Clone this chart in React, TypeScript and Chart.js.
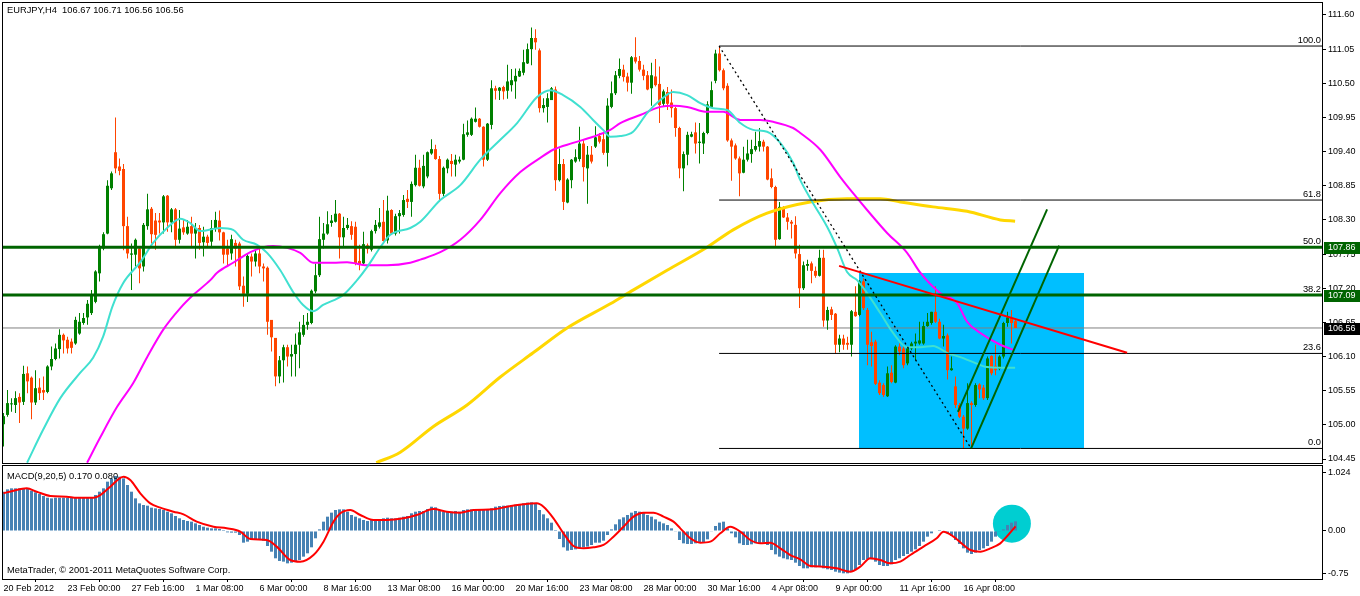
import React, { useEffect, useRef } from "react";
import { Chart, registerables } from "chart.js";

Chart.register(...registerables);

// ---------- price data (EURJPY H4) ----------
const OPEN = [
  105.01,105.16,105.33,105.32,105.45,105.37,105.83,105.76,105.36,105.60,
  105.56,105.53,105.94,106.06,106.22,106.45,106.37,106.34,106.31,106.47,
  106.64,106.73,106.80,106.98,107.44,107.84,108.08,108.81,109.39,109.16,
  109.12,108.20,107.74,107.74,107.84,107.55,108.20,108.48,108.29,108.29,
  108.26,108.69,108.26,108.47,107.98,108.18,108.08,108.20,108.08,108.17,
  107.94,108.03,107.95,108.17,108.29,108.10,107.84,107.76,107.93,107.92,
  107.24,107.11,107.71,107.63,107.76,107.55,107.53,106.69,106.40,105.78,
  106.04,106.25,106.10,106.14,106.29,106.45,106.61,106.64,107.15,107.41,
  107.98,108.08,108.25,108.27,108.40,108.02,108.17,108.20,108.19,107.64,
  107.60,107.89,107.82,108.12,108.19,108.27,107.97,108.46,108.08,108.36,
  108.38,108.64,108.59,108.86,109.14,108.84,109.00,109.37,109.44,109.28,
  108.72,109.13,109.25,109.19,109.24,109.27,109.67,109.67,109.88,109.93,
  109.80,109.27,109.83,110.42,110.38,110.44,110.38,110.47,110.53,110.61,
  110.67,110.82,111.05,111.23,111.03,110.10,110.12,110.23,110.40,108.94,
  109.20,108.58,108.94,109.24,109.28,109.53,109.13,109.35,109.48,109.65,
  109.60,109.38,110.12,110.34,110.62,110.72,110.61,110.51,110.92,110.86,
  110.72,110.63,110.42,110.61,110.49,110.17,110.36,110.19,110.10,109.78,
  109.13,109.35,109.64,109.71,109.54,109.53,109.70,110.12,110.54,110.98,
  110.71,110.46,109.58,109.50,109.29,109.06,109.27,109.36,109.43,109.48,
  109.56,109.48,108.97,108.83,107.99,108.50,108.34,108.27,108.22,107.75,
  107.20,107.56,107.60,107.48,107.40,107.69,106.68,106.86,106.79,106.29,
  106.39,106.32,106.29,106.82,106.77,107.31,106.85,106.33,106.34,105.68,
  105.64,105.46,105.84,105.68,106.26,106.23,105.99,106.23,106.31,106.31,
  106.31,106.59,106.64,106.82,106.66,106.39,106.44,105.88,105.62,105.32,
  105.13,104.94,105.35,105.32,105.65,105.60,105.43,106.11,105.95,105.90,
  106.10,106.64,106.72,106.67,
];
const HIGH = [
  105.19,105.56,105.43,105.54,105.51,105.95,105.94,105.78,105.88,105.75,
  105.78,105.96,106.26,106.31,106.54,106.47,106.42,106.39,106.74,106.80,
  106.80,107.01,107.17,107.49,107.90,108.10,108.94,109.08,109.95,109.29,
  109.20,108.35,107.92,108.00,107.87,108.25,108.72,108.51,108.41,108.41,
  108.70,108.70,108.49,108.49,108.46,108.30,108.30,108.35,108.25,108.22,
  108.19,108.06,108.30,108.43,108.45,108.11,107.98,108.06,107.98,107.95,
  107.39,107.76,107.76,107.82,107.87,107.60,107.55,106.69,106.40,106.11,
  106.29,106.29,106.29,106.47,106.66,106.77,106.80,107.18,107.60,108.35,
  108.25,108.44,108.38,108.62,108.41,108.35,108.33,108.28,108.27,107.90,
  108.11,107.92,108.14,108.30,108.49,108.62,108.69,108.47,108.40,108.46,
  108.70,108.78,108.92,109.35,109.27,109.35,109.40,109.60,109.51,109.33,
  109.16,109.29,109.36,109.35,109.32,109.85,109.90,109.95,110.11,109.94,
  109.81,109.86,110.55,110.46,110.44,110.46,110.80,110.73,110.74,110.74,
  111.04,111.14,111.40,111.37,111.06,110.26,110.34,110.44,110.45,109.45,
  109.28,108.97,109.28,109.44,109.80,109.59,109.49,109.49,109.81,109.70,
  109.72,110.26,110.53,110.70,110.90,110.80,110.67,110.94,111.24,110.94,
  110.80,110.70,110.83,110.89,110.77,110.40,110.44,110.40,110.12,109.80,
  109.40,109.72,109.72,109.87,109.86,109.72,110.21,110.53,111.04,111.10,
  110.74,110.50,109.61,109.53,109.32,109.48,109.59,109.59,109.72,109.78,
  109.59,109.49,109.13,108.85,108.59,108.52,108.41,108.30,108.36,107.90,
  107.63,107.66,107.63,107.55,107.82,107.82,106.90,106.90,106.80,106.45,
  106.45,106.42,106.85,107.23,107.33,107.36,106.88,106.50,106.37,105.72,
  105.67,105.94,105.96,106.28,106.31,106.26,106.26,106.34,106.47,106.66,
  106.66,106.80,106.82,107.23,106.71,106.61,106.47,106.10,105.78,105.35,
  105.16,105.67,105.38,105.67,105.67,105.64,106.10,106.12,106.29,106.12,
  106.66,106.82,106.85,106.71,
];
const LOW = [
  104.65,105.13,105.21,105.19,105.03,105.32,105.51,105.09,105.32,105.40,
  105.40,105.51,105.88,106.04,106.07,106.15,106.15,106.15,106.29,106.45,
  106.61,106.61,106.77,106.96,107.31,107.81,108.07,108.78,109.05,109.02,
  107.81,107.68,107.17,107.55,107.28,107.47,108.14,107.92,107.82,108.08,
  108.08,108.11,108.10,107.87,107.92,108.06,108.06,107.87,107.68,107.82,
  107.71,107.87,107.87,108.11,107.97,107.60,107.57,107.66,107.55,107.17,
  106.90,106.98,107.39,107.55,107.44,107.31,106.45,106.18,105.62,105.67,
  105.68,105.94,105.78,105.78,105.91,106.42,106.53,106.62,107.12,107.38,
  107.84,108.06,108.19,108.26,107.68,107.87,108.14,107.98,107.57,107.49,
  107.57,107.76,107.79,108.08,108.16,107.95,107.92,108.06,108.05,108.08,
  108.35,108.49,108.35,108.84,108.84,108.81,108.97,109.35,109.27,108.59,
  108.68,109.05,109.00,109.00,109.21,109.26,109.64,109.65,109.87,109.79,
  109.16,109.25,109.76,110.24,110.23,110.24,110.25,110.37,110.25,110.60,
  110.63,110.81,110.79,111.04,110.03,110.03,109.87,110.23,108.77,108.92,
  108.46,108.57,108.81,109.22,109.24,108.92,108.56,109.21,109.46,109.53,
  109.35,109.16,110.10,110.31,110.58,110.53,110.37,110.33,110.82,110.69,
  110.55,110.39,110.14,110.45,109.86,110.12,110.07,109.95,109.64,108.97,
  108.76,109.18,109.63,109.37,109.21,109.36,109.68,110.11,110.50,110.69,
  110.39,109.56,108.93,109.27,108.68,109.05,109.24,109.22,109.40,109.40,
  109.40,108.94,108.81,107.88,107.98,108.33,108.14,108.00,107.68,106.88,
  107.17,107.48,107.28,107.37,107.39,106.58,106.53,106.69,106.15,106.17,
  106.21,106.21,106.10,106.74,106.75,106.85,105.96,105.94,105.64,105.48,
  105.45,105.45,105.67,105.67,106.12,105.91,105.96,106.20,106.04,106.29,
  106.29,106.58,106.61,106.64,106.38,106.26,105.73,105.87,105.27,105.11,
  104.62,104.92,104.62,105.29,105.43,105.40,105.40,105.80,105.80,105.88,
  106.07,106.58,106.31,106.56,
];
const CLOSE = [
  105.14,105.35,105.34,105.43,105.36,105.82,105.70,105.36,105.59,105.51,
  105.52,105.94,106.06,106.23,106.45,106.36,106.23,106.24,106.69,106.66,
  106.72,106.95,107.08,107.47,107.88,108.07,108.85,109.05,109.13,109.09,
  108.20,107.76,107.76,107.98,107.52,108.22,108.47,108.07,108.06,108.26,
  108.68,108.26,108.47,107.98,108.16,108.10,108.19,108.08,108.17,107.93,
  108.03,107.93,108.17,108.30,108.10,107.74,107.74,107.99,107.84,107.23,
  107.11,107.72,107.63,107.76,107.55,107.52,106.66,106.41,105.78,106.04,
  106.25,106.10,106.14,106.29,106.49,106.61,106.66,107.16,107.41,107.99,
  108.08,108.23,108.29,108.40,108.02,108.17,108.22,108.06,107.60,107.59,
  107.91,107.83,108.12,108.22,108.26,107.96,108.45,108.08,108.36,108.41,
  108.62,108.59,108.88,109.14,108.85,109.17,109.39,109.44,109.28,108.72,
  109.14,109.27,109.20,109.27,109.27,109.68,109.71,109.93,109.93,109.80,
  109.27,109.85,110.42,110.38,110.43,110.37,110.53,110.55,110.62,110.70,
  110.84,111.05,111.23,111.16,110.10,110.15,110.26,110.42,108.94,109.20,
  108.59,108.95,109.27,109.31,109.53,109.15,109.35,109.24,109.63,109.56,
  109.38,110.14,110.34,110.63,110.73,110.60,110.51,110.92,110.85,110.72,
  110.62,110.40,110.63,110.47,110.15,110.37,110.17,110.10,109.78,109.13,
  109.36,109.67,109.68,109.53,109.56,109.70,110.16,110.39,110.98,110.71,
  110.42,109.58,109.48,109.29,109.05,109.27,109.37,109.44,109.49,109.57,
  109.48,108.95,108.83,107.98,108.51,108.34,108.27,108.24,107.76,107.20,
  107.57,107.59,107.48,107.40,107.69,106.68,106.85,106.77,106.29,106.39,
  106.29,106.29,106.83,106.75,107.31,106.88,106.29,106.27,105.66,105.51,
  105.48,105.83,105.69,106.26,106.18,105.96,106.23,106.31,106.34,106.36,
  106.59,106.66,106.82,106.66,106.39,106.43,105.88,105.91,105.32,105.13,
  104.94,105.35,105.32,105.64,105.57,105.43,106.07,105.83,105.88,106.10,
  106.64,106.73,106.64,106.56,
];

// ---------- moving averages: [bar index, price] ----------
const MA_FAST = [
  [5.9,104.39],[9.9,104.92],[14.2,105.43],[19.2,105.84],[22.4,106.08],[24.9,106.42],[27.2,106.90],
  [29.9,107.28],[34.2,107.62],[37.4,107.93],[40.9,108.17],[44.2,108.32],[46.7,108.25],[49.2,108.12],
  [54.2,108.17],[57.4,108.14],[59.9,107.98],[63.4,107.90],[65.9,107.77],[69.2,107.49],[72.4,107.14],
  [74.9,106.93],[77.4,106.83],[79.9,106.93],[84.9,107.09],[88.4,107.33],[90.9,107.54],[94.2,107.86],
  [96.7,108.06],[101.7,108.17],[104.2,108.27],[109.2,108.62],[114.2,108.86],[119.2,109.27],[124.2,109.59],
  [128.4,109.86],[133.4,110.28],[136.7,110.39],[139.9,110.31],[144.2,110.12],[147.4,109.91],[149.9,109.75],
  [151.7,109.64],[154.2,109.65],[157.4,109.72],[160.9,110.02],[164.2,110.23],[167.4,110.36],[170.9,110.31],
  [174.2,110.18],[177.4,110.10],[180.9,110.07],[184.2,109.86],[187.4,109.75],[190.9,109.72],[194.2,109.54],
  [197.4,109.22],[199.2,108.94],[202.4,108.57],[205.9,108.19],[208.4,107.85],[210.9,107.46],[213.4,107.33],
  [215.9,107.12],[219.2,106.80],[222.4,106.48],[225.9,106.25],[229.2,106.25],[232.4,106.27],[235.9,106.16],
  [239.2,106.09],[242.4,106.01],[245.9,105.93],[249.2,105.92],[252.9,105.92],
];
const MA_MID = [
  [20.9,104.39],[24.2,104.80],[28.4,105.29],[32.4,105.67],[35.9,106.09],[39.9,106.53],[44.2,106.88],
  [47.4,107.09],[51.7,107.33],[53.4,107.45],[57.4,107.61],[61.7,107.78],[64.9,107.86],[67.4,107.88],
  [70.9,107.85],[74.2,107.77],[77.4,107.61],[82.4,107.61],[85.9,107.62],[90.9,107.57],[95.9,107.57],
  [101.7,107.61],[104.2,107.66],[109.2,107.78],[114.2,107.98],[119.2,108.30],[124.2,108.73],[129.2,109.07],
  [134.2,109.30],[137.4,109.43],[142.4,109.54],[147.4,109.64],[151.7,109.75],[154.2,109.86],[159.2,109.99],
  [164.2,110.12],[167.4,110.14],[170.9,110.12],[175.9,110.04],[179.9,110.04],[184.2,109.91],[189.2,109.91],
  [192.4,109.88],[197.4,109.78],[199.2,109.70],[204.2,109.43],[209.2,108.99],[212.4,108.73],[215.9,108.46],
  [220.9,108.09],[225.9,107.77],[229.2,107.45],[234.2,107.12],[238.4,106.96],[240.9,106.66],[244.2,106.48],
  [249.2,106.29],[252.4,106.21],
];
const MA_SLOW = [
  [93.2,104.39],[99.2,104.56],[107.4,104.97],[115.9,105.32],[124.2,105.77],[132.4,106.16],[140.9,106.56],
  [151.7,106.95],[157.4,107.17],[165.9,107.49],[175.9,107.86],[182.4,108.14],[190.9,108.41],[201.7,108.59],
  [210.9,108.64],[219.2,108.64],[224.2,108.59],[232.4,108.51],[240.9,108.44],[249.2,108.30],[252.9,108.28],
];

// ---------- MACD(9,20,5) ----------
const MACD_HIST = [
  0.694,0.735,0.753,0.753,0.753,0.753,0.741,0.712,0.682,0.653,
  0.618,0.588,0.576,0.588,0.588,0.588,0.588,0.588,0.588,0.588,
  0.588,0.588,0.588,0.635,0.694,0.753,0.871,0.929,0.971,0.959,
  0.929,0.812,0.694,0.576,0.488,0.459,0.447,0.412,0.400,0.388,
  0.371,0.341,0.312,0.265,0.224,0.194,0.176,0.165,0.135,0.106,
  0.076,0.059,0.047,0.047,0.035,0.018,-0.024,-0.029,-0.029,-0.071,
  -0.206,-0.188,-0.147,-0.159,-0.159,-0.171,-0.265,-0.365,-0.482,-0.529,
  -0.541,-0.571,-0.559,-0.541,-0.512,-0.453,-0.394,-0.288,-0.129,0.029,
  0.165,0.253,0.324,0.371,0.382,0.382,0.341,0.282,0.253,0.224,
  0.194,0.176,0.194,0.206,0.206,0.224,0.235,0.224,0.224,0.235,
  0.253,0.265,0.312,0.341,0.353,0.353,0.388,0.429,0.418,0.371,
  0.341,0.341,0.341,0.353,0.341,0.371,0.382,0.382,0.382,0.371,
  0.371,0.382,0.400,0.429,0.441,0.447,0.447,0.459,0.465,0.476,
  0.488,0.500,0.506,0.488,0.371,0.294,0.224,0.147,0.018,-0.141,
  -0.288,-0.347,-0.335,-0.324,-0.306,-0.288,-0.276,-0.247,-0.206,-0.206,
  -0.171,-0.071,0.029,0.118,0.206,0.241,0.282,0.324,0.353,0.341,
  0.324,0.282,0.253,0.206,0.165,0.135,0.106,0.047,-0.012,-0.159,
  -0.218,-0.229,-0.229,-0.218,-0.206,-0.206,-0.147,-0.012,0.088,0.147,
  0.165,0.047,-0.041,-0.112,-0.218,-0.247,-0.247,-0.235,-0.218,-0.218,
  -0.206,-0.247,-0.335,-0.412,-0.453,-0.482,-0.500,-0.512,-0.559,-0.618,
  -0.659,-0.659,-0.641,-0.641,-0.629,-0.659,-0.676,-0.688,-0.718,-0.735,
  -0.747,-0.747,-0.724,-0.688,-0.600,-0.512,-0.500,-0.500,-0.541,-0.600,
  -0.618,-0.618,-0.588,-0.512,-0.482,-0.441,-0.406,-0.365,-0.324,-0.265,
  -0.188,-0.100,-0.041,0.000,0.018,-0.012,-0.041,-0.088,-0.159,-0.229,
  -0.306,-0.382,-0.406,-0.382,-0.335,-0.306,-0.265,-0.188,-0.100,-0.012,
  0.029,0.106,0.147,0.170,
];
const MACD_SIGNAL = [
  [0,0.665],[2.5,0.712],[5.8,0.753],[8.3,0.694],[11.7,0.618],[15.8,0.606],[18.3,0.588],[22.5,0.588],
  [24.2,0.635],[26.7,0.782],[30,0.959],[31.7,0.9],[34.2,0.665],[36.7,0.488],[39.2,0.412],[42.5,0.341],
  [45,0.294],[48.3,0.165],[52.5,0.076],[55.8,0.047],[59.2,-0.012],[61.7,-0.141],[65.8,-0.159],[68.3,-0.276],
  [71.7,-0.512],[74.2,-0.541],[77.5,-0.424],[80,-0.188],[82.5,0.165],[84.2,0.312],[86.7,0.371],[89.2,0.282],
  [92.5,0.194],[95.8,0.194],[100,0.224],[103.3,0.282],[107.5,0.388],[110.8,0.341],[114.2,0.324],[117.5,0.371],
  [122.5,0.382],[125.8,0.429],[130,0.471],[133.3,0.488],[135,0.429],[137.5,0.224],[140,-0.041],[142.5,-0.265],
  [145,-0.306],[147.5,-0.288],[150,-0.247],[152.5,-0.1],[155,0.076],[157.5,0.253],[160,0.324],[162.5,0.324],
  [165,0.253],[167.5,0.165],[169.2,0.047],[171.7,-0.129],[174.2,-0.206],[176.7,-0.188],[179.2,-0.041],
  [181.7,0.076],[184.2,-0.012],[186.7,-0.159],[189.2,-0.218],[191.7,-0.206],[194.2,-0.306],[196.7,-0.424],
  [199.2,-0.5],[201.7,-0.618],[205,-0.629],[208.3,-0.659],[211.7,-0.718],[214.2,-0.629],[216.7,-0.482],
  [219.2,-0.512],[221.7,-0.571],[224.2,-0.541],[226.7,-0.424],[230,-0.276],[233.3,-0.129],[235,-0.012],
  [237.5,-0.1],[240,-0.247],[241.7,-0.335],[244.2,-0.365],[246.7,-0.306],[249.2,-0.218],[250.8,-0.1],[253,0.08],
];
const MACD_MARK = [[252.1, 0.13]];

// ---------- axes ----------
const DATE_TICK_INDEX = [0,16,32,48,64,80,96,112,128,144,160,176,192,208,224,240];
const DATE_LABELS = [
  "20 Feb 2012","23 Feb 00:00","27 Feb 16:00","1 Mar 08:00","6 Mar 00:00","8 Mar 16:00",
  "13 Mar 08:00","16 Mar 00:00","20 Mar 16:00","23 Mar 08:00","28 Mar 00:00","30 Mar 16:00",
  "4 Apr 08:00","9 Apr 00:00","11 Apr 16:00","16 Apr 08:00",
];
const PRICE_TICKS = [104.45,105.00,105.55,106.10,106.65,107.20,107.75,108.30,108.85,109.40,109.95,110.50,111.05,111.60];
const MACD_TICKS = [1.024, 0, -0.75];
const MACD_TICK_LABELS = ["1.024", "0.00", "-0.75"];

// ---------- drawn objects ----------
const FIB_START = 178.9;
const FIB_LABELS = ["100.0","61.8","50.0","38.2","23.6","0.0"];
const FIB_PRICES = [111.10,108.62,107.86,107.095,106.15,104.62];
const LEVEL_LINES = [107.86, 107.09];
const BID = 106.56;
const FIB_DIAGONAL = [[178.9,111.10],[241.9,104.62]];
const RED_TREND = [[208.9,107.56],[280.9,106.16]];
const CHANNEL_A = [[238.6,105.21],[260.9,108.47]];
const CHANNEL_B = [[241.9,104.62],[263.9,107.885]];
const ZONE_X = [213.9, 270.0];
const ZONE_PRICE = [104.62, 107.445];
const PRICE_TAGS = [
  { price: 107.86, text: "107.86", bg: "#006400" },
  { price: 107.09, text: "107.09", bg: "#006400" },
  { price: 106.56, text: "106.56", bg: "#000000" },
];
const TITLE = "EURJPY,H4  106.67 106.71 106.56 106.56";
const MACD_TITLE = "MACD(9,20,5) 0.170 0.080";
const COPYRIGHT = "MetaTrader, \u00A9 2001-2011 MetaQuotes Software Corp.";

// ---------- style ----------
const FONT = '"Liberation Sans", Arial, sans-serif';
const BULL = "#008000";
const BEAR = "#FF4500";
const X_MIN = -0.375;
const X_MAX = 329.625;
const PRICE_MIN = 104.3856;
const PRICE_MAX = 111.8093;
const MACD_MIN = -0.8473;
const MACD_MAX = 1.165;

const pts = (a: number[][]) => a.map(([x, y]) => ({ x, y }));
const lineDs = (label: string, data: any[], color: string, width: number, order: number, extra: any = {}) => ({
  type: "line",
  label,
  data,
  borderColor: color,
  borderWidth: width,
  pointRadius: 0,
  pointHoverRadius: 0,
  fill: false,
  tension: 0,
  order,
  ...extra,
});

const fitVertical = (s: any) => {
  s.width = 38;
  s.paddingTop = 0;
  s.paddingBottom = 0;
};

function mainConfig(): any {
  const colors = OPEN.map((o, i) => (CLOSE[i] >= o ? BULL : BEAR));
  const datasets: any[] = [
    lineDs("bid", [{ x: X_MIN, y: BID }, { x: X_MAX, y: BID }], "#808080", 1, 30),
    {
      type: "bar", label: "wicks",
      data: LOW.map((l, i) => ({ x: i, y: [l, HIGH[i]] })),
      backgroundColor: colors, barThickness: 1, grouped: false, inflateAmount: 0, order: 21,
    },
    {
      type: "bar", label: "bodies",
      data: OPEN.map((o, i) => ({ x: i, y: [o, CLOSE[i]] })),
      backgroundColor: colors, barThickness: 3, grouped: false, minBarLength: 1, inflateAmount: 0, order: 20,
    },
    lineDs("ma slow", pts(MA_SLOW), "#FFD700", 3, 12, { cubicInterpolationMode: "monotone" }),
    lineDs("ma mid", pts(MA_MID), "#FF00FF", 2, 11, { cubicInterpolationMode: "monotone" }),
    lineDs("ma fast", pts(MA_FAST), "#40E0D0", 2, 10, { cubicInterpolationMode: "monotone" }),
  ];
  FIB_PRICES.forEach((p, k) => {
    datasets.push(lineDs("fib " + FIB_LABELS[k], [{ x: FIB_START, y: p }, { x: X_MAX, y: p }], "#000000", 1, 6));
  });
  LEVEL_LINES.forEach((p) => {
    datasets.push(lineDs("level " + p, [{ x: X_MIN, y: p }, { x: X_MAX, y: p }], "#006400", 3, 5));
  });
  datasets.push(lineDs("fib diagonal", pts(FIB_DIAGONAL), "#000000", 1.3, 4, { borderDash: [2, 3] }));
  datasets.push(lineDs("channel a", pts(CHANNEL_A), "#006400", 2, 3));
  datasets.push(lineDs("channel b", pts(CHANNEL_B), "#006400", 2, 3));
  datasets.push(lineDs("trend", pts(RED_TREND), "#FF0000", 2, 2));

  const decor = {
    id: "mainDecor",
    beforeDatasetsDraw(chart: any) {
      const { ctx } = chart;
      const x = chart.scales.x, y = chart.scales.y;
      const x0 = Math.round(x.getPixelForValue(ZONE_X[0]));
      const x1 = Math.round(x.getPixelForValue(ZONE_X[1]));
      const y0 = Math.round(y.getPixelForValue(ZONE_PRICE[1]));
      const y1 = Math.round(y.getPixelForValue(ZONE_PRICE[0]));
      ctx.save();
      ctx.fillStyle = "#00BFFF";
      ctx.fillRect(x0, y0, x1 - x0, y1 - y0);
      ctx.restore();
    },
    afterDatasetsDraw(chart: any) {
      const { ctx, chartArea } = chart;
      const y = chart.scales.y;
      ctx.save();
      ctx.fillStyle = "#000";
      ctx.font = `9.3px ${FONT}`;
      ctx.textAlign = "right";
      ctx.textBaseline = "bottom";
      FIB_PRICES.forEach((p, k) => {
        ctx.fillText(FIB_LABELS[k], chartArea.right - 1, Math.round(y.getPixelForValue(p)) - 1);
      });
      ctx.textAlign = "left";
      ctx.textBaseline = "middle";
      ctx.fillText(TITLE, 7, 10.5);
      ctx.restore();
    },
    afterDraw(chart: any) {
      const { ctx, chartArea } = chart;
      const y = chart.scales.y;
      ctx.save();
      ctx.strokeStyle = "#000";
      ctx.lineWidth = 1;
      ctx.strokeRect(chartArea.left + 0.5, chartArea.top + 0.5, chartArea.right - chartArea.left, chartArea.bottom - chartArea.top);
      ctx.font = `9px ${FONT}`;
      ctx.textAlign = "left";
      ctx.textBaseline = "middle";
      PRICE_TAGS.forEach((t) => {
        const py = Math.round(y.getPixelForValue(t.price));
        ctx.fillStyle = t.bg;
        ctx.fillRect(chartArea.right + 2, py - 5, 36, 12);
        ctx.fillStyle = "#fff";
        ctx.fillText(t.text, chartArea.right + 6, py + 1);
      });
      ctx.restore();
    },
  };

  return {
    type: "bar",
    data: { datasets },
    plugins: [decor],
    options: {
      responsive: false,
      animation: false,
      devicePixelRatio: 1,
      events: [],
      layout: { padding: { left: 2, top: 2, right: 0, bottom: 2 }, autoPadding: false },
      plugins: { legend: { display: false }, tooltip: { enabled: false } },
      scales: {
        x: { type: "linear", min: X_MIN, max: X_MAX, display: false, offset: false },
        y: {
          type: "linear",
          position: "right",
          min: PRICE_MIN,
          max: PRICE_MAX,
          beginAtZero: false,
          afterBuildTicks: (s: any) => { s.ticks = PRICE_TICKS.map((v) => ({ value: v })); },
          afterFit: fitVertical,
          ticks: {
            autoSkip: false,
            padding: 2,
            color: "#000",
            font: { family: FONT, size: 9 },
            callback: (v: any) => Number(v).toFixed(2),
          },
          grid: { drawOnChartArea: false, drawTicks: true, tickLength: 4, color: "#000" },
          border: { display: false },
        },
      },
    },
  };
}

function macdConfig(): any {
  const decor = {
    id: "macdDecor",
    afterDraw(chart: any) {
      const { ctx, chartArea } = chart;
      ctx.save();
      ctx.strokeStyle = "#000";
      ctx.lineWidth = 1;
      ctx.strokeRect(chartArea.left + 0.5, chartArea.top + 0.5, chartArea.right - chartArea.left, chartArea.bottom - chartArea.top);
      ctx.fillStyle = "#000";
      ctx.font = `9.3px ${FONT}`;
      ctx.textAlign = "left";
      ctx.textBaseline = "middle";
      ctx.fillText(MACD_TITLE, 7, 12);
      ctx.fillText(COPYRIGHT, 7, 106.5);
      ctx.restore();
    },
  };
  return {
    type: "bar",
    data: {
      datasets: [
        lineDs("mark", pts(MACD_MARK), "#00CED1", 0, 10, {
          showLine: false, pointRadius: 19, pointBackgroundColor: "#00CED1", pointBorderWidth: 0, clip: false,
        }),
        {
          type: "bar", label: "macd",
          data: MACD_HIST.map((v, i) => ({ x: i, y: v })),
          backgroundColor: "#4682B4", barThickness: 3, grouped: false, inflateAmount: 0, order: 5,
        },
        lineDs("signal", pts(MACD_SIGNAL), "#FF0000", 2, 1, { cubicInterpolationMode: "monotone" }),
      ],
    },
    plugins: [decor],
    options: {
      responsive: false,
      animation: false,
      devicePixelRatio: 1,
      events: [],
      layout: { padding: { left: 2, top: 1, right: 0, bottom: 0 }, autoPadding: false },
      plugins: { legend: { display: false }, tooltip: { enabled: false } },
      scales: {
        x: {
          type: "linear",
          min: X_MIN,
          max: X_MAX,
          offset: false,
          position: "bottom",
          afterBuildTicks: (s: any) => { s.ticks = DATE_TICK_INDEX.map((v) => ({ value: v })); },
          afterFit: (s: any) => { s.height = 17; s.paddingLeft = 0; s.paddingRight = 0; },
          ticks: {
            autoSkip: false,
            maxRotation: 0,
            minRotation: 0,
            align: "start",
            padding: 1,
            color: "#000",
            font: { family: FONT, size: 9 },
            callback: (v: any) => {
              const k = DATE_TICK_INDEX.indexOf(Math.round(Number(v)));
              return k >= 0 ? DATE_LABELS[k] : "";
            },
          },
          grid: { drawOnChartArea: false, drawTicks: true, tickLength: 3, color: "#000" },
          border: { display: false },
        },
        y: {
          type: "linear",
          position: "right",
          min: MACD_MIN,
          max: MACD_MAX,
          beginAtZero: false,
          afterBuildTicks: (s: any) => { s.ticks = MACD_TICKS.map((v) => ({ value: v })); },
          afterFit: fitVertical,
          ticks: {
            autoSkip: false,
            padding: 2,
            color: "#000",
            font: { family: FONT, size: 9 },
            callback: (v: any) => {
              const k = MACD_TICKS.indexOf(Number(v));
              return k >= 0 ? MACD_TICK_LABELS[k] : "";
            },
          },
          grid: { drawOnChartArea: false, drawTicks: true, tickLength: 4, color: "#000" },
          border: { display: false },
        },
      },
    },
  };
}

export default function App() {
  const mainRef = useRef<HTMLCanvasElement>(null);
  const macdRef = useRef<HTMLCanvasElement>(null);

  useEffect(() => {
    const c1 = new Chart(mainRef.current as HTMLCanvasElement, mainConfig());
    const c2 = new Chart(macdRef.current as HTMLCanvasElement, macdConfig());
    return () => {
      c1.destroy();
      c2.destroy();
    };
  }, []);

  return (
    <div style={{ position: "fixed", left: 0, top: 0, width: 1360, height: 596, background: "#fff", overflow: "hidden" }}>
      <canvas
        ref={mainRef}
        width={1360}
        height={465}
        style={{ position: "absolute", left: 0, top: 0, width: 1360, height: 465 }}
      />
      <canvas
        ref={macdRef}
        width={1360}
        height={132}
        style={{ position: "absolute", left: 0, top: 464, width: 1360, height: 132 }}
      />
    </div>
  );
}
